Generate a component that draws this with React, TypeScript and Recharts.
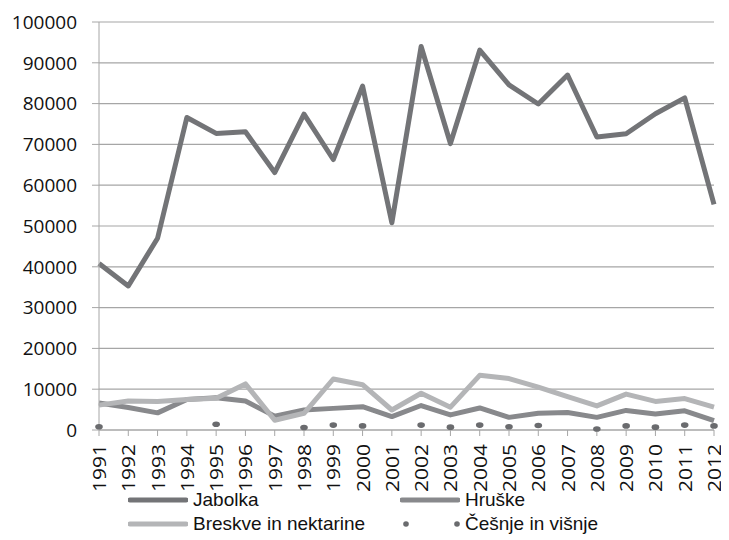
import { LineChart, Line, XAxis, YAxis, CartesianGrid, Legend } from 'recharts';

const years = ['1991', '1992', '1993', '1994', '1995', '1996', '1997', '1998', '1999', '2000', '2001', '2002', '2003', '2004', '2005', '2006', '2007', '2008', '2009', '2010', '2011', '2012'];
const jabolka = [40800, 35300, 47000, 76600, 72700, 73100, 63100, 77400, 66300, 84300, 50800, 94000, 70200, 93100, 84600, 79900, 87000, 71800, 72600, 77500, 81400, 55300];
const hruske = [6600, 5500, 4200, 7500, 7900, 7100, 3400, 4900, 5300, 5700, 3300, 6000, 3700, 5400, 3100, 4100, 4300, 3100, 4800, 3900, 4700, 2300];
const breskve = [6100, 7100, 7000, 7500, 7800, 11300, 2400, 4100, 12500, 11100, 4900, 9000, 5600, 13400, 12600, 10500, 8200, 5900, 8800, 7000, 7700, 5600];
const cesnje = [800, null, null, null, 1400, null, null, 600, 1200, 1000, null, 1200, 700, 1200, 800, 1100, null, 250, 1000, 700, 1200, 1000];
const yTicks = [0, 10000, 20000, 30000, 40000, 50000, 60000, 70000, 80000, 90000, 100000];

const C_JAB = '#737477';
const C_HRU = '#88898c';
const C_BRE = '#b4b5b7';
const C_CES = '#6a6b6e';
const GRID = '#a6a6a6';
const FONT = '"Open Sans", "DejaVu Sans", sans-serif';
const LEGEND_FONT = '"Liberation Sans", Arial, sans-serif';

const data = years.map((y, i) => ({
    year: y,
    jabolka: jabolka[i],
    hruske: hruske[i],
    breskve: breskve[i],
    cesnje: cesnje[i],
}));

function YearTick({ x, y, payload }: any) {
    const ty = y + 8;
    return (
        <text
            x={x}
            y={ty}
            transform={`rotate(-90, ${x}, ${ty})`}
            textAnchor="end"
            dominantBaseline="central"
            fontSize={19}
            fontFamily={FONT}
            fill="#111"
            textLength={48}
            lengthAdjust="spacingAndGlyphs"
        >
            {payload.value}
        </text>
    );
}

function CherryDot({ cx, cy, value }: any) {
    if (value == null || cx == null || cy == null) return null;
    return <ellipse cx={cx} cy={cy} rx={3.8} ry={2.8} fill={C_CES} />;
}

function LegendIcon({ kind, color }: { kind: string; color: string }) {
    return (
        <svg width={60} height={22} style={{ display: 'block' }}>
            {kind === 'dots' ? (
                <>
                    <circle cx={6} cy={11} r={2.8} fill={color} />
                    <circle cx={57} cy={11} r={2.8} fill={color} />
                </>
            ) : (
                <line x1={2} y1={11} x2={58} y2={11} stroke={color} strokeWidth={5} strokeLinecap="round" />
            )}
        </svg>
    );
}

const legendItems = [
    { name: 'Jabolka', color: C_JAB, kind: 'line' },
    { name: 'Hruške', color: C_HRU, kind: 'line' },
    { name: 'Breskve in nektarine', color: C_BRE, kind: 'line' },
    { name: 'Češnje in višnje', color: C_CES, kind: 'dots' },
];

function ChartLegend() {
    return (
        <div style={{ position: 'relative', width: 721, height: 52, fontFamily: LEGEND_FONT, fontSize: 19, color: '#111' }}>
            {legendItems.map((it, i) => (
                <div
                    key={it.name}
                    style={{
                        position: 'absolute',
                        left: i % 2 === 0 ? 120 : 392,
                        top: 1 + Math.floor(i / 2) * 24,
                        height: 22,
                        display: 'flex',
                        alignItems: 'center',
                        whiteSpace: 'nowrap',
                    }}
                >
                    <LegendIcon kind={it.kind} color={it.color} />
                    <span style={{ marginLeft: 5, lineHeight: '22px' }}>{it.name}</span>
                </div>
            ))}
        </div>
    );
}

export default function App() {
    return (
        <div
            style={{
                width: 720,
                height: 532,
                marginLeft: -1,
                marginTop: -1,
                borderLeft: '1px solid #b3b3b3',
                borderTop: '1px solid #b3b3b3',
                background: '#fff',
                fontFamily: FONT,
            }}
        >
            <LineChart width={721} height={532} data={data} margin={{ top: 14, right: 15, left: 0, bottom: 0 }}>
                <CartesianGrid vertical={false} stroke={GRID} strokeWidth={1.2} />
                <XAxis
                    dataKey="year"
                    interval={0}
                    height={58}
                    tickSize={6}
                    tickMargin={0}
                    tick={<YearTick />}
                    stroke={GRID}
                    tickLine={{ stroke: GRID }}
                />
                <YAxis
                    domain={[0, 100000]}
                    ticks={yTicks}
                    interval={0}
                    width={91}
                    tickSize={7}
                    tickMargin={15}
                    stroke={GRID}
                    tick={{ fontSize: 19, fill: '#111', fontFamily: FONT }}
                />
                <Legend verticalAlign="bottom" height={52} content={() => <ChartLegend />} />
                <Line dataKey="jabolka" name="Jabolka" stroke={C_JAB} strokeWidth={5} dot={false} strokeLinejoin="round" isAnimationActive={false} />
                <Line dataKey="hruske" name="Hruške" stroke={C_HRU} strokeWidth={5} dot={false} strokeLinejoin="round" isAnimationActive={false} />
                <Line dataKey="breskve" name="Breskve in nektarine" stroke={C_BRE} strokeWidth={5} dot={false} strokeLinejoin="round" isAnimationActive={false} />
                <Line dataKey="cesnje" name="Češnje in višnje" stroke="none" dot={<CherryDot />} activeDot={false} connectNulls={false} isAnimationActive={false} />
            </LineChart>
        </div>
    );
}
